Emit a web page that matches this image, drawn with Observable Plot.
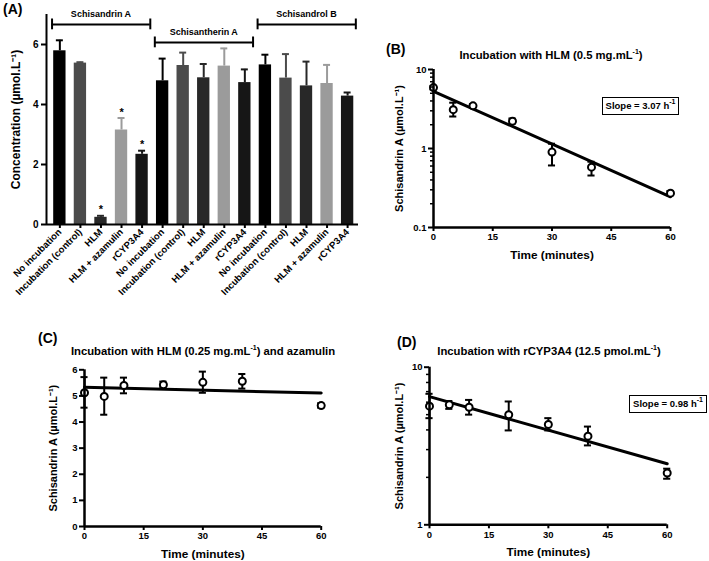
<!DOCTYPE html>
<html>
<head>
<meta charset="utf-8">
<script src="https://cdn.jsdelivr.net/npm/d3@7"></script>
<script src="https://cdn.jsdelivr.net/npm/@observablehq/plot@0.6"></script>
<style>
  body { margin: 0; background: #fff; }
  #fig { position: relative; width: 709px; height: 561px; overflow: hidden;
         font-family: "Liberation Sans", Arial, Helvetica, sans-serif; font-weight: bold; color: #000; background: #fff; }
  .panel { position: absolute; }
  .panel svg { overflow: visible; }
  .letter { position: absolute; font-size: 14px; line-height: 14px; white-space: nowrap; }
  .ttl { position: absolute; width: 340px; font-size: 11.3px; line-height: 13px; text-align: center; white-space: nowrap; }
  .ttl sup, .slope sup { font-size: 7px; line-height: 0; position: relative; top: -0.5px; }
  .slope { position: absolute; border: 1.5px solid #000; font-size: 9.5px; line-height: 15px; text-align: center; white-space: nowrap; box-sizing: border-box; }
  g[aria-label="y-axis label"] text { font-size: 11px; }
  g[aria-label="x-axis label"] text { font-size: 11.8px; }
  #pA g[aria-label="y-axis label"] text { font-size: 12px; }
</style>
</head>
<body>
<div id="fig"></div>
<script>
// ---------- Panel A data ----------
const barLabels = ["No incubation", "Incubation (control)", "HLM", "HLM + azamulin", "rCYP3A4"];
const compounds = ["Schisandrin A", "Schisantherin A", "Schisandrol B"];
const barMeans  = [5.79, 5.38, 0.24, 3.15, 2.34,  4.79, 5.30, 4.89, 5.28, 4.73,  5.32, 4.88, 4.62, 4.70, 4.28];
const barErrors = [0.35, 0.03, 0.05, 0.40, 0.12,  0.74, 0.43, 0.46, 0.59, 0.44,  0.34, 0.80, 0.81, 0.62, 0.12];
const barColors = ["#000000", "#4b4b4b", "#282828", "#9b9b9b", "#161616"];
const significant = [false, false, true, true, true,  false, false, false, false, false,  false, false, false, false, false];
const concTicks = [0, 2, 4, 6];

// ---------- Time-course data ----------
const times = [0, 5, 10, 20, 30, 40, 60];
const timeTicks = [0, 15, 30, 45, 60];
const fitTimes = [0, 60];

const hlmMean = [5.90, 3.10, 3.47, 2.22, 0.90, 0.58, 0.272];
const hlmLow  = [5.60, 2.54, 3.30, 2.05, 0.61, 0.455, 0.255];
const hlmHigh = [6.20, 3.80, 3.65, 2.40, 1.15, 0.68, 0.290];
const hlmFit  = [5.30, 0.245];
const hlmMajor = [0.1, 1, 10];
const hlmMinor = [0.2, 0.3, 0.4, 0.5, 0.6, 0.7, 0.8, 0.9, 2, 3, 4, 5, 6, 7, 8, 9];
const hlmSlope = "3.07";

const azaMean = [5.12, 4.98, 5.40, 5.43, 5.52, 5.56, 4.63];
const azaLow  = [4.55, 4.28, 5.10, 5.33, 5.12, 5.28, 4.55];
const azaHigh = [5.72, 5.70, 5.70, 5.55, 5.93, 5.84, 4.72];
const azaFit  = [5.33, 5.11];
const azaTicks = [0, 1, 2, 3, 4, 5, 6];

const cypMean = [5.66, 5.77, 5.57, 4.99, 4.33, 3.65, 2.13];
const cypLow  = [4.75, 5.44, 5.00, 3.97, 3.97, 3.19, 1.96];
const cypHigh = [6.78, 6.10, 6.20, 6.06, 4.75, 4.20, 2.27];
const cypFit  = [6.51, 2.44];
const cypMajor = [1, 10];
const cypMinor = [2, 3, 4, 5, 6, 7, 8, 9];
const cypSlope = "0.98";

const yLabelConc = "Concentration (µmol.L⁻¹)";
const yLabelSchA = "Schisandrin A (µmol.L⁻¹)";
const xLabelTime = "Time (minutes)";

// ---------- helpers ----------
const fig = document.getElementById("fig");
const FONT = "'Liberation Sans', Arial, Helvetica, sans-serif";
function place(node, left, top, id) {
  const d = document.createElement("div");
  d.className = "panel";
  if (id) d.id = id;
  d.style.left = left + "px";
  d.style.top = top + "px";
  d.appendChild(node);
  fig.appendChild(d);
}
function html(cls, left, top, content, extra) {
  const d = document.createElement("div");
  d.className = cls;
  d.style.left = left + "px";
  d.style.top = top + "px";
  if (extra) Object.assign(d.style, extra);
  d.innerHTML = content;
  fig.appendChild(d);
}
const baseStyle = { fontFamily: FONT, fontWeight: "bold", fontSize: "9px", background: "none", overflow: "visible", color: "#000" };

// ---------- Panel A ----------
const bars = barMeans.map((v, i) => ({
  i, label: barLabels[i % 5], compound: compounds[Math.floor(i / 5)],
  mean: v, top: v + barErrors[i], color: barColors[i % 5], sig: significant[i]
}));
const groups = compounds.map((c, g) => ({ c, start: g * 5, end: g * 5 + 4, mid: g * 5 + 2 }));
const bracketLevel = [6.67, 6.07, 6.67];
const xDomA = [-0.65, 14.53];
const half = 0.3, cap = 0.17;

const plotA = Plot.plot({
  width: 362, height: 300,
  marginLeft: 46, marginRight: 4, marginTop: 14, marginBottom: 76,
  style: baseStyle,
  x: { type: "linear", domain: xDomA },
  y: { domain: [0, 7] },
  color: { type: "identity" },
  marks: [
    Plot.rectY(bars, { x1: d => d.i - half, x2: d => d.i + half, y1: 0, y2: "mean", fill: "color" }),
    Plot.ruleX(bars, { x: "i", y1: "mean", y2: "top", stroke: "color", strokeWidth: 2 }),
    Plot.ruleY(bars, { x1: d => d.i - cap, x2: d => d.i + cap, y: "top", stroke: "color", strokeWidth: 2 }),
    Plot.text(bars.filter(d => d.sig), { x: "i", y: "top", text: () => "*", dy: -6, fontSize: 11 }),
    // group brackets
    Plot.ruleY(groups, { x1: d => d.start - 0.38, x2: d => d.end + 0.4, y: (d, k) => bracketLevel[k], strokeWidth: 2 }),
    Plot.ruleX(groups, { x: d => d.start - 0.38, y1: (d, k) => bracketLevel[k] - 0.18, y2: (d, k) => bracketLevel[k] + 0.18, strokeWidth: 2 }),
    Plot.ruleX(groups, { x: d => d.end + 0.4, y1: (d, k) => bracketLevel[k] - 0.18, y2: (d, k) => bracketLevel[k] + 0.18, strokeWidth: 2 }),
    Plot.text(groups, { x: "mid", y: (d, k) => bracketLevel[k], text: "c", dy: -10, fontSize: 9 }),
    // axes
    Plot.axisY({ ticks: concTicks, tickFormat: d => String(d), tickSize: 5, strokeWidth: 2, fontSize: 10, tickPadding: 3,
                 label: yLabelConc, labelAnchor: "center", labelOffset: 35, labelArrow: "none" }),
    Plot.axisX({ ticks: bars.map(d => d.i), tickFormat: i => barLabels[i % 5], tickRotate: -45,
                 tickSize: 4, strokeWidth: 2, fontSize: 9.5, tickPadding: 2, label: null }),
    Plot.ruleX([xDomA[0]], { strokeWidth: 2 }),
    Plot.ruleY([0], { strokeWidth: 2 })
  ]
});
place(plotA, 0, 0, "pA");
html("letter", 3, 2, "(A)");

// ---------- time course panels ----------
function timePanel(o) {
  const pts = times.map((t, k) => ({ t, m: o.mean[k], lo: o.low[k], hi: o.high[k] }));
  const fit = fitTimes.map((t, k) => ({ t, v: o.fit[k] }));
  const ecap = 0.9;
  const marks = [
    Plot.line(fit, { x: "t", y: "v", strokeWidth: 3 }),
    Plot.ruleX(pts, { x: "t", y1: "lo", y2: "hi", strokeWidth: 2 }),
    Plot.ruleY(pts, { x1: d => d.t - ecap, x2: d => d.t + ecap, y: "lo", strokeWidth: 2 }),
    Plot.ruleY(pts, { x1: d => d.t - ecap, x2: d => d.t + ecap, y: "hi", strokeWidth: 2 }),
    Plot.dot(pts, { x: "t", y: "m", r: 3.5, stroke: "#000", strokeWidth: 2, fill: "#fff" }),
    Plot.axisY({ ticks: o.major, tickFormat: d => String(d), tickSize: 5, strokeWidth: 2, fontSize: 9.5, tickPadding: 2,
                 label: yLabelSchA, labelAnchor: "center", labelOffset: o.labelOffset, labelArrow: "none" }),
    Plot.axisX({ ticks: timeTicks, tickSize: 4, strokeWidth: 2, fontSize: 9.5, tickPadding: 2,
                 label: xLabelTime, labelAnchor: "center", labelOffset: 31, labelArrow: "none" }),
    Plot.ruleX([0], { strokeWidth: 2.5 }),
    Plot.ruleY([o.domain[0]], { strokeWidth: 2.5 })
  ];
  if (o.minor) marks.push(Plot.axisY({ ticks: o.minor, tickFormat: () => "", tickSize: 3, strokeWidth: 1.5, label: null }));
  return Plot.plot({
    width: o.width, height: o.height,
    marginLeft: o.ml, marginRight: o.mr, marginTop: o.mt, marginBottom: o.mb,
    style: baseStyle,
    x: { domain: [0, 60] },
    y: { type: o.type, domain: o.domain },
    marks
  });
}

// B
place(timePanel({ mean: hlmMean, low: hlmLow, high: hlmHigh, fit: hlmFit, type: "log", domain: [0.1, 10],
  major: hlmMajor, minor: hlmMinor, width: 349, height: 270, ml: 73, mr: 39, mt: 69, mb: 43, labelOffset: 38 }), 360, 0);
html("letter", 386, 42, "(B)");
html("ttl", 551 - 170, 49, "Incubation with HLM (0.5 mg.mL<sup>-1</sup>)");
html("slope", 602, 97, "Slope = " + hlmSlope + " h<sup>-1</sup>", { width: "77px", height: "18px" });

// C
place(timePanel({ mean: azaMean, low: azaLow, high: azaHigh, fit: azaFit, type: "linear", domain: [0, 6],
  major: azaTicks, minor: null, width: 360, height: 261, ml: 84, mr: 39.3, mt: 69.3, mb: 35, labelOffset: 35 }), 0, 300);
html("letter", 38, 331, "(C)");
html("ttl", 203 - 170, 345, "Incubation with HLM (0.25 mg.mL<sup>-1</sup>) and azamulin");

// D
place(timePanel({ mean: cypMean, low: cypLow, high: cypHigh, fit: cypFit, type: "log", domain: [1, 10],
  major: cypMajor, minor: cypMinor, width: 349, height: 261, ml: 69, mr: 42.3, mt: 66.7, mb: 36.7, labelOffset: 34 }), 360, 300);
html("letter", 397, 335, "(D)");
html("ttl", 549 - 170, 345, "Incubation with rCYP3A4 (12.5 pmol.mL<sup>-1</sup>)");
html("slope", 629, 395, "Slope = " + cypSlope + " h<sup>-1</sup>", { width: "78px", height: "18px" });
</script>
</body>
</html>
